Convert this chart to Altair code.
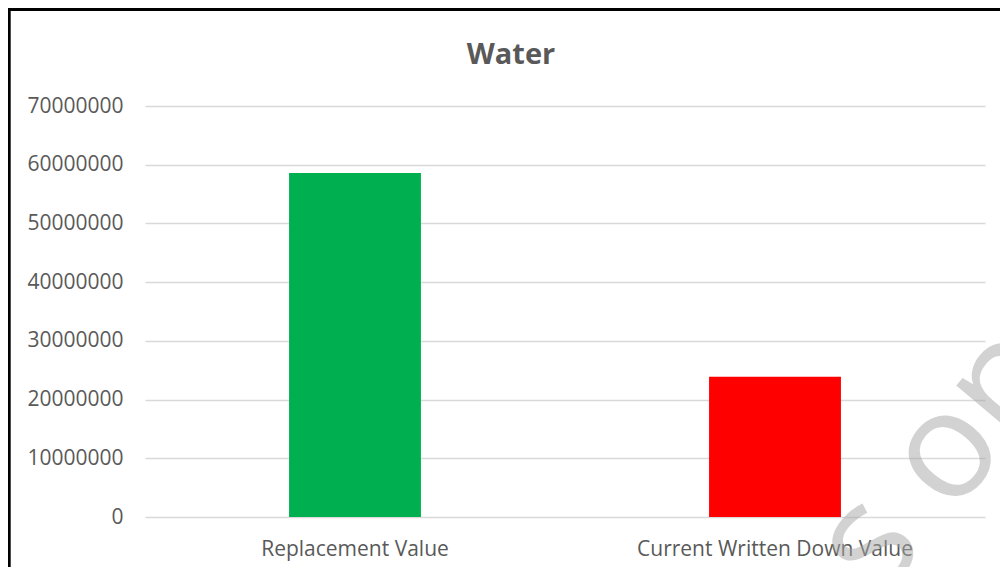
import altair as alt
import pandas as pd

categories = ["Replacement Value", "Current Written Down Value"]
values = [58600000, 23900000]
colors = ["#00B050", "#FF0000"]
y_ticks = [0, 10000000, 20000000, 30000000, 40000000, 50000000, 60000000, 70000000]

df = pd.DataFrame({"category": categories, "value": values, "color": colors})

FONT = "Open Sans"
GREY = "#595959"

bars = alt.Chart(df).mark_bar().encode(
    x=alt.X("category:N", sort=categories, title=None,
            scale=alt.Scale(paddingInner=0.686, paddingOuter=0.343),
            axis=alt.Axis(labelAngle=0, labelFont=FONT, labelFontSize=21,
                          labelColor=GREY, labelPadding=21, ticks=False,
                          domain=False, grid=False, gridColor="red", labelLimit=500)),
    y=alt.Y("value:Q", title=None,
            scale=alt.Scale(domain=[0, 70000000], nice=False),
            axis=alt.Axis(values=y_ticks, format="d", labelFont=FONT,
                          labelFontSize=21, labelColor=GREY, labelPadding=22,
                          ticks=False, domain=False, grid=True,
                          gridColor="#d9d9d9", gridWidth=1.6)),
    color=alt.Color("color:N", scale=None, legend=None),
)

frame_left = alt.Chart(df).mark_rule(color="black", strokeWidth=2.5).encode(
    x=alt.value(-135.8), y=alt.value(-98), y2=alt.value(470)
)
frame_top = alt.Chart(df).mark_rule(color="black", strokeWidth=3).encode(
    x=alt.value(-137), x2=alt.value(870), y=alt.value(-96.5)
)

watermark = alt.Chart(pd.DataFrame({"t": ["es on"]})).mark_text(
    font=FONT, fontSize=150, angle=310, align="center", baseline="middle",
    color="#a6a6a6", opacity=0.5
).encode(text="t:N", x=alt.value(768), y=alt.value(386))

chart = alt.layer(bars, frame_left, frame_top, watermark).properties(
    width=840, height=411,
    view=alt.ViewBackground(stroke="transparent", strokeWidth=0),
    title=alt.TitleParams("Water", font=FONT, fontSize=29, fontWeight="bold",
                          color=GREY, anchor="middle", dx=-54, offset=-86,
                          baseline="alphabetic"),
    autosize=alt.AutoSizeParams(type="none"),
    padding={"left": 137, "top": 98, "right": 15, "bottom": 50},
).configure_view(stroke="transparent", strokeWidth=0).configure(background="white")

chart.save("out.html", embed_options={"renderer": "svg", "actions": False})
